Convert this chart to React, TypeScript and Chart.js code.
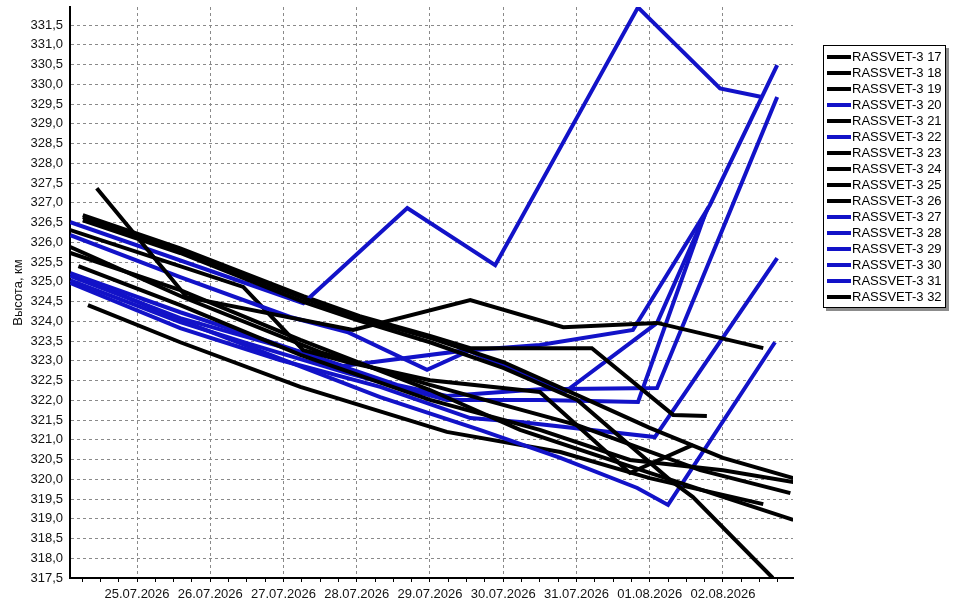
import React, { useEffect, useRef } from 'react';
import { Chart, registerables } from 'chart.js';

Chart.register(...registerables);

// Day index 0 = 24.07.2026
const DATE_LABELS = ['24.07.2026', '25.07.2026', '26.07.2026', '27.07.2026', '28.07.2026', '29.07.2026', '30.07.2026', '31.07.2026', '01.08.2026', '02.08.2026', '03.08.2026'];

const SERIES_NAMES = ['RASSVET-3 17', 'RASSVET-3 18', 'RASSVET-3 19', 'RASSVET-3 20', 'RASSVET-3 21', 'RASSVET-3 22', 'RASSVET-3 23', 'RASSVET-3 24', 'RASSVET-3 25', 'RASSVET-3 26', 'RASSVET-3 27', 'RASSVET-3 28', 'RASSVET-3 29', 'RASSVET-3 30', 'RASSVET-3 31', 'RASSVET-3 32'];
const BLACK = '#000000';
const BLUE = '#1212c8';
const SERIES_COLORS = [BLACK, BLACK, BLACK, BLUE, BLACK, BLUE, BLACK, BLACK, BLACK, BLACK, BLUE, BLUE, BLUE, BLUE, BLUE, BLACK];

const S17_X = [0.45, 1.68, 3.95, 5.55, 6.82, 8.10, 9.55];
const S17_Y = [327.37, 324.61, 323.78, 324.54, 323.85, 323.96, 323.32];
const S18_X = [0.26, 1.59, 3.27, 4.04, 5.00, 6.00, 7.01, 8.00, 9.00, 9.96];
const S18_Y = [326.64, 325.80, 324.59, 324.08, 323.58, 322.97, 322.13, 321.30, 320.54, 320.03];
const S19_X = [0.26, 1.59, 3.27, 4.04, 5.00, 6.00, 7.01, 8.28, 8.59, 9.68];
const S19_Y = [326.56, 325.73, 324.49, 324.01, 323.47, 322.82, 322.01, 319.98, 319.55, 317.50];
const S20_X = [0.09, 3.27, 4.69, 5.89, 7.84, 8.96, 9.53];
const S20_Y = [326.51, 324.46, 326.87, 325.42, 331.95, 329.90, 329.68];
const S21_X = [0.26, 1.59, 3.27, 4.04, 5.00, 5.55, 7.21, 8.32, 8.78];
const S21_Y = [326.69, 325.85, 324.64, 324.13, 323.63, 323.32, 323.32, 321.63, 321.60];
const S22_X = [0.09, 1.59, 3.09, 3.87, 4.96, 5.55, 6.50, 7.77, 8.82, 9.74];
const S22_Y = [326.18, 325.12, 324.11, 323.73, 322.77, 323.27, 323.40, 323.78, 326.94, 330.49];
const S23_X = [0.09, 2.45, 3.27, 3.87, 5.00, 6.50, 7.73, 8.59];
const S23_Y = [326.31, 324.87, 323.27, 322.97, 322.51, 322.21, 320.16, 320.87];
const S24_X = [0.09, 1.63, 3.50, 5.00, 7.01, 8.69, 9.92];
const S24_Y = [325.88, 324.61, 323.22, 322.39, 321.37, 320.23, 319.65];
const S25_X = [0.09, 1.59, 3.23, 5.00, 6.23, 8.00, 9.96];
const S25_Y = [325.73, 324.79, 323.53, 322.26, 321.25, 320.16, 318.97];
const S26_X = [0.20, 1.59, 3.23, 5.00, 6.50, 7.73, 9.00, 9.96];
const S26_Y = [325.40, 324.41, 323.15, 322.01, 321.25, 320.49, 320.23, 319.93];
const S27_X = [0.09, 1.59, 3.81, 5.51, 6.84, 8.10, 8.80];
const S27_Y = [325.22, 324.23, 322.87, 323.27, 322.21, 323.96, 326.89];
const S28_X = [0.09, 1.59, 3.23, 4.55, 5.23, 6.50, 8.10, 9.74];
const S28_Y = [325.15, 324.08, 323.22, 322.39, 322.11, 322.28, 322.31, 329.68];
const S29_X = [0.09, 1.59, 2.50, 3.87, 5.23, 6.50, 7.84, 8.75];
const S29_Y = [325.04, 323.98, 323.45, 322.69, 322.01, 322.01, 321.96, 326.69];
const S30_X = [0.09, 1.59, 2.95, 4.32, 5.55, 6.23, 8.07, 9.74];
const S30_Y = [324.97, 323.83, 323.02, 322.34, 321.55, 321.45, 321.07, 325.60];
const S31_X = [0.26, 1.59, 4.32, 5.68, 6.78, 7.83, 8.25, 9.71];
const S31_Y = [325.09, 324.03, 322.08, 321.25, 320.54, 319.78, 319.35, 323.47];
const S32_X = [0.33, 1.59, 3.23, 5.23, 6.78, 8.00, 9.55];
const S32_Y = [324.41, 323.47, 322.34, 321.20, 320.69, 320.03, 319.37];

const SERIES_X = [S17_X, S18_X, S19_X, S20_X, S21_X, S22_X, S23_X, S24_X, S25_X, S26_X, S27_X, S28_X, S29_X, S30_X, S31_X, S32_X];
const SERIES_Y = [S17_Y, S18_Y, S19_Y, S20_Y, S21_Y, S22_Y, S23_Y, S24_Y, S25_Y, S26_Y, S27_Y, S28_Y, S29_Y, S30_Y, S31_Y, S32_Y];

const X_MIN = 0.085;
const X_MAX = 9.956;
const X_STEP = 0.25;
const Y_MIN = 317.5;
const Y_MAX = 331.96;
const Y_STEP = 0.5;
const Y_TITLE = 'Высота, км';

const FONT = '"Liberation Sans", Arial, sans-serif';

const isWhole = (v: number) => Math.abs(v - Math.round(v)) < 1e-6;

const stepTicks = (min: number, max: number, step: number) => {
  const out: { value: number }[] = [];
  const first = Math.ceil(min / step - 1e-9);
  const last = Math.floor(max / step + 1e-9);
  for (let k = first; k <= last; k++) out.push({ value: Math.round(k * step * 1000) / 1000 });
  return out;
};

const legendBoxPlugin = {
  id: 'legendBox',
  afterDraw(chart: any) {
    const ctx = chart.ctx as CanvasRenderingContext2D;
    const bx = 823, by = 45, bw = 123, bh = 263;
    ctx.save();
    ctx.fillStyle = '#8c8c8c';
    ctx.fillRect(bx + 3, by + 3, bw, bh);
    ctx.fillStyle = '#ffffff';
    ctx.fillRect(bx, by, bw, bh);
    ctx.strokeStyle = '#000000';
    ctx.lineWidth = 1;
    ctx.strokeRect(bx + 0.5, by + 0.5, bw - 1, bh - 1);
    ctx.font = `13px ${FONT}`;
    ctx.textBaseline = 'middle';
    ctx.textAlign = 'left';
    chart.data.datasets.forEach((ds: any, i: number) => {
      const cy = by + 12 + i * 16;
      ctx.strokeStyle = ds.borderColor;
      ctx.lineWidth = 4;
      ctx.beginPath();
      ctx.moveTo(827, cy);
      ctx.lineTo(851, cy);
      ctx.stroke();
      ctx.fillStyle = '#000000';
      ctx.fillText(ds.label, 852, cy + 0.5);
    });
    ctx.restore();
  },
};

export default function App() {
  const ref = useRef<HTMLCanvasElement>(null);

  useEffect(() => {
    document.body.style.margin = '0';
    const canvas = ref.current;
    if (!canvas) return;
    const datasets = SERIES_NAMES.map((name, i) => ({
      label: name,
      data: SERIES_X[i].map((x, j) => ({ x, y: SERIES_Y[i][j] })),
      borderColor: SERIES_COLORS[i],
      backgroundColor: SERIES_COLORS[i],
      borderWidth: 4,
      pointRadius: 0,
      tension: 0,
      fill: false,
    }));
    const chart = new Chart(canvas, {
      type: 'line',
      data: { datasets },
      plugins: [legendBoxPlugin],
      options: {
        responsive: false,
        animation: false,
        devicePixelRatio: 1,
        layout: { padding: { top: 7, right: 163, left: 0, bottom: 0 } },
        plugins: { legend: { display: false }, tooltip: { enabled: false } },
        scales: {
          x: {
            type: 'linear',
            bounds: 'data',
            min: X_MIN,
            max: X_MAX,
            afterBuildTicks: (scale: any) => { scale.ticks = stepTicks(X_MIN, X_MAX, X_STEP); },
            afterFit: (scale: any) => {
              scale.height = 32;
              scale.paddingLeft = 0;
              scale.paddingRight = 0;
            },
            border: { display: true, color: '#000000', width: 2, dash: [3, 3] },
            grid: {
              color: (c: any) => (c.tick && isWhole(c.tick.value) ? '#8a8a8a' : 'rgba(0,0,0,0)'),
              tickColor: '#000000',
              tickLength: 4,
              lineWidth: 1,
            },
            ticks: {
              autoSkip: false,
              maxRotation: 0,
              padding: 5,
              color: '#111111',
              font: { family: FONT, size: 13 },
              callback: (v: any) => {
                const n = Number(v);
                return isWhole(n) ? DATE_LABELS[Math.round(n)] ?? '' : '';
              },
            },
          },
          y: {
            type: 'linear',
            bounds: 'data',
            min: Y_MIN,
            max: Y_MAX,
            afterBuildTicks: (scale: any) => { scale.ticks = stepTicks(Y_MIN, Y_MAX, Y_STEP); },
            afterFit: (scale: any) => {
              scale.width = 70;
              scale.paddingTop = 0;
              scale.paddingBottom = 0;
            },
            border: { display: true, color: '#000000', width: 2, dash: [3, 3] },
            grid: { color: '#8a8a8a', drawTicks: false, lineWidth: 1 },
            ticks: {
              autoSkip: false,
              padding: 7,
              color: '#111111',
              font: { family: FONT, size: 13 },
              callback: (v: any) => Number(v).toFixed(1).replace('.', ','),
            },
            title: {
              display: true,
              text: Y_TITLE,
              color: '#111111',
              font: { family: FONT, size: 13 },
              padding: { top: 11, bottom: 0 },
            },
          },
        },
      },
    });
    return () => chart.destroy();
  }, []);

  return (
    <div style={{ position: 'absolute', left: 0, top: 0, width: 956, height: 610, background: '#ffffff' }}>
      <canvas ref={ref} width={956} height={610} />
    </div>
  );
}
